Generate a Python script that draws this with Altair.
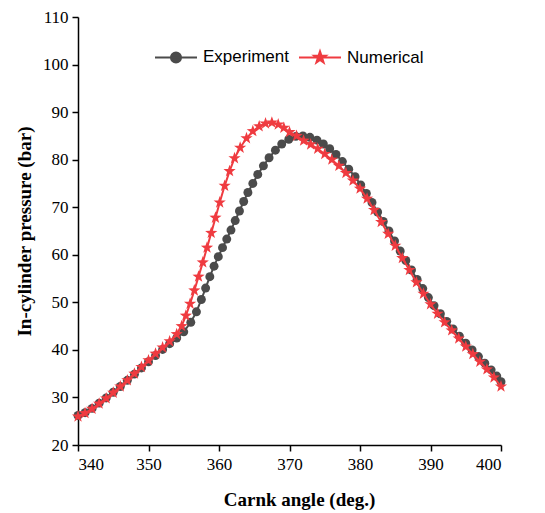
import altair as alt
import pandas as pd

# Experiment series (crank angle in deg, pressure in bar)
angle_exp = [340, 341, 342, 343, 344, 345, 346, 347, 348, 349, 350, 351, 352, 353, 354, 355, 356,
             356.8, 357.5, 358.1, 358.7, 359.3, 359.9, 360.5, 361.1, 361.7, 362.3, 362.9, 363.5, 364.1,
             364.8, 365.5, 366.3, 367.1, 368.0, 368.9, 369.9, 370.9, 371.9, 372.9, 373.9, 374.8, 375.7,
             376.6, 377.5, 378.4, 379.3, 380.1, 380.9, 381.7, 382.5, 383.3, 384.1, 384.9, 385.7, 386.5,
             387.3, 388.1, 388.9, 389.7, 390.5, 391.4, 392.3, 393.2, 394.1, 395.0, 395.9, 396.8, 397.7,
             398.6, 399.4, 400.0]
p_exp = [26.2, 26.8, 27.7, 28.8, 29.9, 31.1, 32.3, 33.6, 34.9, 36.2, 37.5, 38.8, 40.1, 41.3, 42.5, 43.8, 45.8,
         48.0, 50.6, 53.0, 55.4, 57.6, 59.6, 61.5, 63.3, 65.2, 67.2, 69.2, 71.2, 73.1,
         75.0, 76.9, 78.7, 80.4, 82.0, 83.3, 84.3, 84.9, 85.0, 84.7, 84.1, 83.3, 82.3,
         81.1, 79.6, 78.0, 76.4, 74.7, 72.9, 71.0, 69.0, 67.0, 65.0, 62.9, 60.8, 58.8,
         56.8, 54.8, 52.9, 51.0, 49.3, 47.6, 46.0, 44.4, 42.9, 41.4, 40.0, 38.6, 37.2,
         35.8, 34.5, 33.3]

# Numerical series
angle_num = [340, 341, 342, 343, 344, 345, 346, 347, 348, 349, 350, 351, 352, 353, 354, 354.7, 355.3,
             355.9, 356.5, 357.1, 357.7, 358.3, 358.9, 359.5, 360.1, 360.8, 361.5, 362.2, 363.0, 363.9,
             364.8, 365.7, 366.6, 367.5, 368.4, 369.2, 370, 371, 372, 373, 374, 375, 376, 377, 378, 379,
             380, 381, 382, 383, 384, 385, 386, 387, 388, 389, 390, 391, 392, 393, 394, 395, 396, 397,
             398, 399, 400]
p_num = [26.0, 26.7, 27.6, 28.7, 29.8, 31.0, 32.3, 33.6, 35.0, 36.4, 37.8, 39.2, 40.5, 41.8, 43.3, 45.0, 47.2,
         49.7, 52.5, 55.4, 58.4, 61.5, 64.6, 67.8, 71.0, 74.5, 77.6, 80.3, 82.5, 84.5,
         86.0, 87.0, 87.6, 87.8, 87.4, 86.7, 85.8, 85.0, 84.0, 83.2, 82.3, 81.2, 80.0, 78.7, 77.2, 75.6,
         73.9, 71.8, 69.4, 66.9, 64.4, 61.9, 59.3, 56.8, 54.2, 51.8, 49.6, 47.6, 45.8, 44.1, 42.4, 40.7,
         39.1, 37.5, 35.9, 34.2, 32.3]

series = ["Experiment", "Numerical"]
x_ticks = [340, 350, 360, 370, 380, 390, 400]
y_ticks = [20, 30, 40, 50, 60, 70, 80, 90, 100, 110]

GRAY = "#4b4b4b"
RED = "#ef3b40"

df = pd.concat([
    pd.DataFrame({"angle": angle_exp, "pressure": p_exp, "series": series[0]}),
    pd.DataFrame({"angle": angle_num, "pressure": p_num, "series": series[1]}),
], ignore_index=True)

STAR = ("M0,-1L0.235,-0.324L0.951,-0.309L0.380,0.124L0.588,0.809L0,0.4L-0.588,0.809"
        "L-0.380,0.124L-0.951,-0.309L-0.235,-0.324Z")
circle_path = "M-1,0L1,0M-0.24,0A0.24,0.24,0,1,1,0.24,0A0.24,0.24,0,1,1,-0.24,0Z"
star_path = ("M-1,0L1,0M0,-0.29L0.067,-0.092L0.276,-0.09L0.108,0.035L0.17,0.235L0,0.114"
             "L-0.17,0.235L-0.108,0.035L-0.276,-0.09L-0.067,-0.092Z")

x_enc = alt.X("angle:Q", scale=alt.Scale(domain=[340, 400], nice=False, zero=False),
              axis=alt.Axis(values=x_ticks, title="Carnk angle (deg.)", titleX=221, titleY=54,
                            titleBaseline="middle", titleAlign="center"))
y_enc = alt.Y("pressure:Q", scale=alt.Scale(domain=[20, 110], nice=False, zero=False),
              axis=alt.Axis(values=y_ticks, title="In-cylinder pressure (bar)", titleX=-54, titleY=214,
                            titleAngle=270, titleBaseline="middle", titleAlign="center"))

legend = alt.Legend(
    title=None, orient="none", legendX=76, legendY=18, direction="horizontal",
    symbolSize=1764, labelOffset=5, columnPadding=6, padding=0,
    labelFont="Liberation Sans", labelFontSize=17, labelColor="black",
    symbolStrokeWidth=2, symbolOpacity=1,
)

# Legend-only layer (no rows drawn): shows line + marker symbols
legend_layer = alt.Chart(df).transform_filter(alt.datum.angle < 0).mark_point(filled=True, opacity=1).encode(
    x=x_enc, y=y_enc,
    fill=alt.Fill("series:N", scale=alt.Scale(domain=series, range=[GRAY, RED]), legend=legend),
    stroke=alt.Stroke("series:N", scale=alt.Scale(domain=series, range=[GRAY, RED]), legend=legend),
    shape=alt.Shape("series:N", scale=alt.Scale(domain=series, range=[circle_path, star_path]), legend=legend),
)

exp_line = alt.Chart(df).transform_filter(alt.datum.series == "Experiment").mark_line(
    strokeWidth=2, color=GRAY
).encode(x=x_enc, y=y_enc)

exp_pts = alt.Chart(df).transform_filter(alt.datum.series == "Experiment").mark_point(
    filled=True, size=80, opacity=1, shape="circle", color=GRAY
).encode(x=x_enc, y=y_enc)

num_line = alt.Chart(df).transform_filter(alt.datum.series == "Numerical").mark_line(
    strokeWidth=2, color=RED
).encode(x=x_enc, y=y_enc)

num_pts = alt.Chart(df).transform_filter(alt.datum.series == "Numerical").mark_point(
    filled=True, size=165, opacity=1, shape=STAR, color=RED
).encode(x=x_enc, y=y_enc)

chart = alt.layer(exp_line, exp_pts, num_line, num_pts, legend_layer).properties(
    width=423, height=428,
    autosize=alt.AutoSizeParams(type="none"),
    padding={"left": 78, "top": 17, "right": 44, "bottom": 68},
    background="white",
).configure_view(stroke=None).configure_axis(
    grid=False, domainColor="black", domainWidth=1.5, tickColor="black", tickWidth=1.5,
    tickSize=6, labelFont="Liberation Serif", labelFontSize=17, labelColor="black",
    titleFont="Liberation Serif", titleFontSize=19, titleFontWeight="bold", titleColor="black",
).configure_axisX(labelPadding=5).configure_axisY(labelPadding=4)

chart.save("out.html", embed_options={"renderer": "svg", "actions": False})
